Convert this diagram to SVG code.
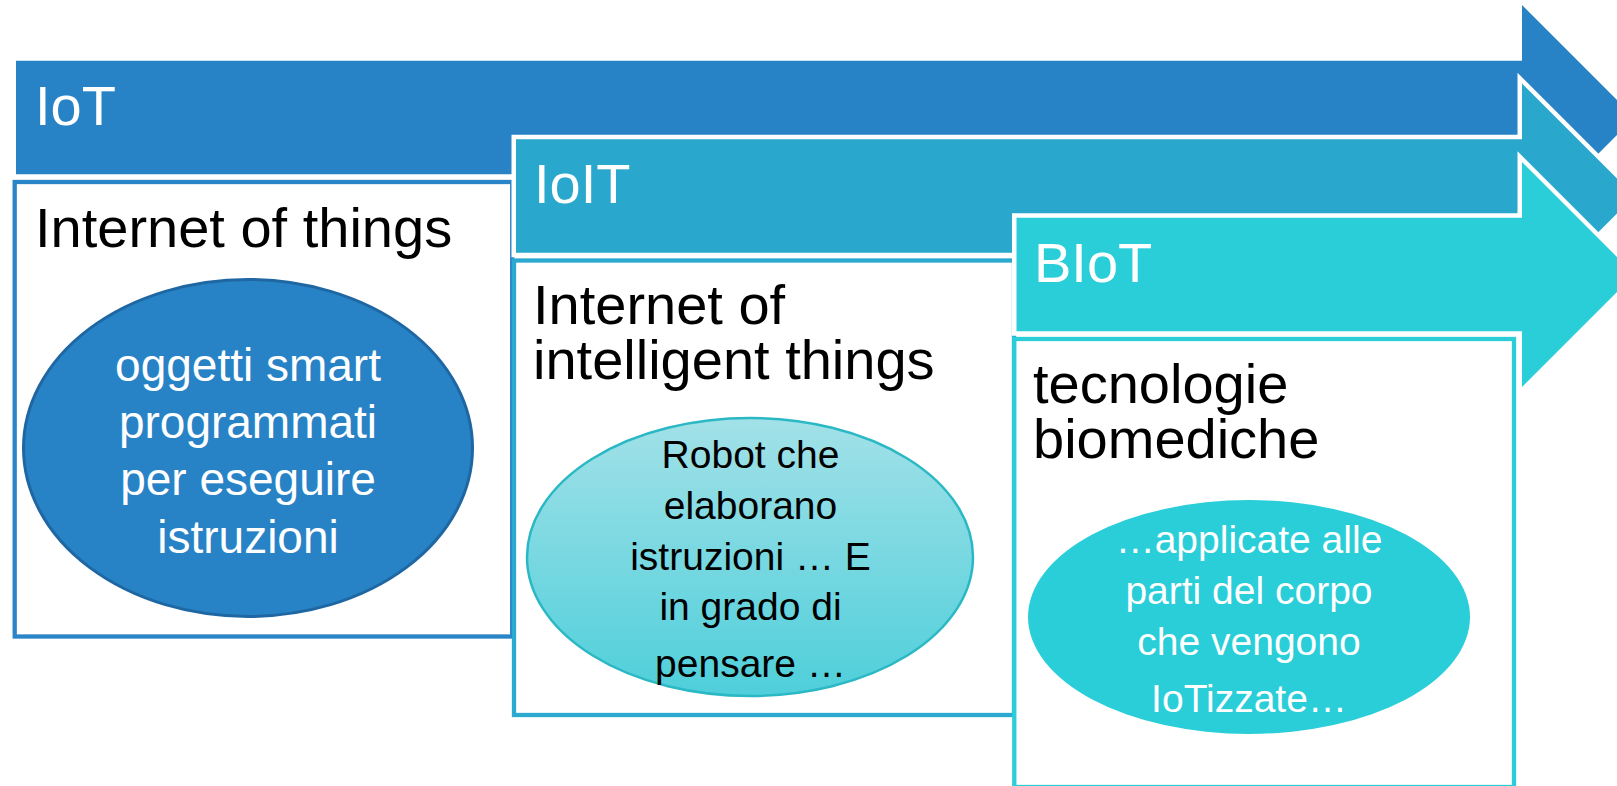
<svg xmlns="http://www.w3.org/2000/svg" width="1617" height="786" viewBox="0 0 1617 786">
  <defs>
    <linearGradient id="g2" x1="0" y1="0" x2="0" y2="1">
      <stop offset="0" stop-color="#A3E1E8"/>
      <stop offset="1" stop-color="#4ECFDA"/>
    </linearGradient>
    <style>
      .arrow { stroke: #FFFFFF; stroke-width: 9; paint-order: stroke; stroke-linejoin: miter; stroke-miterlimit: 10; }
      .box { fill: #FFFFFF; stroke-width: 4.3; }
      .hdr { font-family: "Liberation Sans", Arial, sans-serif; font-size: 56px; fill: #FFFFFF; }
      .ttl { font-family: "Liberation Sans", Arial, sans-serif; font-size: 56px; fill: #000000; }
      .el1 { font-family: "Liberation Sans", Arial, sans-serif; font-size: 46px; fill: #FFFFFF; text-anchor: middle; }
      .el2 { font-family: "Liberation Sans", Arial, sans-serif; font-size: 39px; fill: #000000; text-anchor: middle; }
      .el3 { font-family: "Liberation Sans", Arial, sans-serif; font-size: 39px; fill: #FFFFFF; text-anchor: middle; }
    </style>
  </defs>
  <rect width="1617" height="786" fill="#FFFFFF"/>

  <g id="connectors"></g>

  <g id="iot">
    <path class="arrow" fill="#2883C6" d="M16,60.7 H1522 V5 L1634.5,117.5 L1522,230 V174.3 H16 Z"/>
    <text class="hdr" x="35" y="125">IoT</text>
    <rect class="box" stroke="#2A85C8" x="14.7" y="182" width="497.5" height="454.5"/>
    <text class="ttl" x="35" y="246.5">Internet of things</text>
    <ellipse cx="248" cy="448" rx="224.5" ry="168.5" fill="#2883C6" stroke="#1E67A2" stroke-width="3"/>
    <text class="el1"><tspan x="248" y="381">oggetti smart</tspan><tspan x="248" y="438">programmati</tspan><tspan x="248" y="495">per eseguire</tspan><tspan x="248" y="553">istruzioni</tspan></text>
  </g>

  <g id="ioit">
    <path class="arrow" fill="#29A7CD" d="M516,139.2 H1522 V83.5 L1634.5,196 L1522,308.5 V252.8 H516 Z"/>
    <text class="hdr" x="534" y="203.3">IoIT</text>
    <rect class="box" stroke="#2BA9D1" x="514" y="260.5" width="500" height="454.5"/>
    <text class="ttl"><tspan x="533" y="324.3">Internet of</tspan><tspan x="533" y="378.5">intelligent things</tspan></text>
    <ellipse cx="750" cy="557" rx="223" ry="139" fill="url(#g2)" stroke="#2BB8C5" stroke-width="2.5"/>
    <text class="el2"><tspan x="750.5" y="468.3">Robot che</tspan><tspan x="750.5" y="518.5">elaborano</tspan><tspan x="750.5" y="570">istruzioni … E</tspan><tspan x="750.5" y="620">in grado di</tspan><tspan x="750.5" y="677">pensare …</tspan></text>
  </g>

  <g id="biot">
    <path class="arrow" fill="#29CED8" d="M1016.5,217.7 H1522 V162 L1634.5,274.5 L1522,387 V331.3 H1016.5 Z"/>
    <text class="hdr" x="1034" y="281.7">BIoT</text>
    <rect class="box" stroke="#2ACDD8" x="1014.3" y="339" width="499.7" height="448"/>
    <text class="ttl"><tspan x="1033" y="403.3">tecnologie</tspan><tspan x="1033" y="458.3">biomediche</tspan></text>
    <ellipse cx="1249" cy="617" rx="221" ry="117" fill="#29CED8"/>
    <text class="el3"><tspan x="1249" y="553">…applicate alle</tspan><tspan x="1249" y="603.5">parti del corpo</tspan><tspan x="1249" y="655">che vengono</tspan><tspan x="1249" y="711.5">IoTizzate…</tspan></text>
  </g>
</svg>
